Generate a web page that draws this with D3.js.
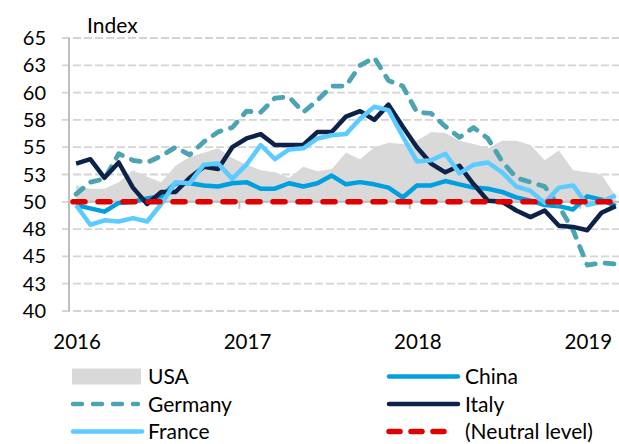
<!DOCTYPE html>
<html>
<head>
<meta charset="utf-8">
<script src="https://cdn.jsdelivr.net/npm/d3@7"></script>
<style>
  body { margin: 0; background: #fff; }
  svg { display: block; font-family: Lato, "Open Sans", sans-serif; }
</style>
</head>
<body>
<div id="chart"></div>
<script>
// monthly PMI readings, Mar 2016 .. May 2019
var months = d3.range(39).map(function(i) { return i; });
var yearLabels = ["2016", "2017", "2018", "2019"];
var yTicks = [40, 42.5, 45, 47.5, 50, 52.5, 55, 57.5, 60, 62.5, 65];

var usa = [51.5, 51.2, 51.2, 51.8, 52.9, 52.3, 51.8, 53.3, 54.1, 54.5, 54.9, 54.0, 53.4,
  52.9, 52.7, 52.2, 53.2, 52.8, 53.0, 54.5, 53.9, 55.0, 55.4, 55.3, 55.6, 56.4,
  56.3, 55.6, 55.3, 54.9, 55.6, 55.6, 55.2, 53.8, 54.7, 52.9, 52.7, 52.5, 50.5];
var china = [49.7, 49.4, 49.1, 49.9, 50.0, 50.3, 50.5, 51.7, 51.7, 51.5, 51.4, 51.7, 51.8,
  51.2, 51.2, 51.7, 51.4, 51.7, 52.4, 51.6, 51.8, 51.6, 51.3, 50.4, 51.5, 51.5,
  51.9, 51.6, 51.3, 51.2, 50.9, 50.4, 50.1, 49.7, 49.6, 49.3, 50.5, 50.2, 49.6];
var germany = [50.7, 51.8, 52.1, 54.4, 53.8, 53.6, 54.2, 55.0, 54.3, 55.5, 56.4, 56.8, 58.3,
  58.2, 59.5, 59.6, 58.2, 59.3, 60.6, 60.6, 62.5, 63.2, 61.1, 60.6, 58.2, 58.1,
  56.9, 55.9, 56.8, 55.8, 53.7, 52.2, 51.8, 51.4, 49.6, 47.4, 44.2, 44.4, 44.3];
var italy = [53.5, 53.9, 52.2, 53.6, 51.3, 49.8, 50.9, 50.9, 52.2, 53.2, 53.0, 55.0, 55.8,
  56.2, 55.2, 55.2, 55.2, 56.4, 56.4, 57.8, 58.3, 57.5, 58.9, 56.9, 55.0, 53.5,
  52.7, 53.3, 51.6, 50.1, 50.0, 49.2, 48.6, 49.2, 47.8, 47.7, 47.4, 49.0, 49.6];
var france = [49.7, 47.9, 48.3, 48.2, 48.5, 48.2, 49.8, 51.8, 51.7, 53.4, 53.5, 52.1, 53.4,
  55.2, 53.9, 54.8, 54.9, 55.8, 56.1, 56.2, 57.6, 58.7, 58.4, 56.0, 53.7, 53.8,
  54.4, 52.6, 53.4, 53.6, 52.7, 51.4, 51.0, 49.9, 51.3, 51.5, 49.7, 50.0, 50.6];
var neutral = 50;

var width = 619, height = 444;

var svg = d3.select("#chart")
  .append("svg")
    .attr("width", width)
    .attr("height", height);

var x = d3.scalePoint()
  .domain(months)
  .range([69, 622.8])
  .padding(0.5);
var step = x.step();

var y = d3.scaleLinear()
  .domain([40, 65])
  .range([311, 38]);

// gridlines (dashed, also forming the left tick marks)
svg.append("g")
  .selectAll("line")
  .data(yTicks)
  .enter()
    .append("line")
    .attr("x1", 62)
    .attr("x2", 623)
    .attr("y1", d => y(d))
    .attr("y2", d => y(d))
    .attr("stroke", "#d4d4d4")
    .attr("stroke-width", 1.8)
    .attr("stroke-dasharray", "8,3");

// y axis labels
svg.append("g")
  .selectAll("text")
  .data(yTicks)
  .enter()
    .append("text")
    .attr("x", 46)
    .attr("y", d => y(d))
    .attr("dy", "0.35em")
    .attr("text-anchor", "end")
    .attr("font-size", 20)
    .attr("fill", "#000")
    .text(d => Math.round(d));

svg.append("text")
  .attr("x", 87)
  .attr("y", 33)
  .attr("font-size", 21)
  .text("Index");

// USA area, filled down to the neutral level
var area = d3.area()
  .x((d, i) => x(i))
  .y0(y(neutral))
  .y1(d => y(d));

svg.append("path")
  .datum(usa)
  .attr("d", area)
  .attr("fill", "#d9d9d9");

// axes lines
svg.append("line")
  .attr("x1", 69).attr("x2", 69)
  .attr("y1", y(65)).attr("y2", y(40))
  .attr("stroke", "#bfbfbf")
  .attr("stroke-width", 2);

svg.append("line")
  .attr("x1", 69).attr("x2", 623)
  .attr("y1", y(neutral)).attr("y2", y(neutral))
  .attr("stroke", "#bfbfbf")
  .attr("stroke-width", 2);

svg.append("g")
  .selectAll("line")
  .data([12, 24, 36])
  .enter()
    .append("line")
    .attr("x1", d => x(d) - step / 2)
    .attr("x2", d => x(d) - step / 2)
    .attr("y1", y(neutral))
    .attr("y2", y(neutral) + 7)
    .attr("stroke", "#bfbfbf")
    .attr("stroke-width", 2);

svg.append("g")
  .selectAll("text")
  .data(yearLabels)
  .enter()
    .append("text")
    .attr("x", (d, i) => x(i * 12) + 1)
    .attr("y", 349)
    .attr("text-anchor", "middle")
    .attr("font-size", 20.5)
    .text(d => d);

var line = d3.line()
  .x((d, i) => x(i))
  .y(d => y(d));

var series = [
  {name: "China", values: china, color: "#009fe0", width: 4.5, dash: null},
  {name: "Germany", values: germany, color: "#4ba3b4", width: 4.8, dash: "9,10"},
  {name: "Italy", values: italy, color: "#0c2249", width: 4.5, dash: null},
  {name: "France", values: france, color: "#5ccbff", width: 4.5, dash: null}
];

svg.append("g")
  .selectAll("path")
  .data(series)
  .enter()
    .append("path")
    .attr("d", d => line(d.values))
    .attr("fill", "none")
    .attr("stroke", d => d.color)
    .attr("stroke-width", d => d.width)
    .attr("stroke-linejoin", "round")
    .attr("stroke-linecap", d => d.dash ? "round" : "butt")
    .attr("stroke-dasharray", d => d.dash);

// neutral level
svg.append("line")
  .attr("x1", x(0) - step / 2 + 4)
  .attr("x2", 623)
  .attr("y1", y(neutral))
  .attr("y2", y(neutral))
  .attr("stroke", "#e00000")
  .attr("stroke-width", 5.5)
  .attr("stroke-linecap", "round")
  .attr("stroke-dasharray", "12,13");

// legend
var legendItems = [
  {name: "USA", type: "area", color: "#d9d9d9", col: 0, row: 0},
  {name: "China", type: "line", color: "#009fe0", col: 1, row: 0},
  {name: "Germany", type: "dash", color: "#4ba3b4", col: 0, row: 1},
  {name: "Italy", type: "line", color: "#0c2249", col: 1, row: 1},
  {name: "France", type: "line", color: "#5ccbff", col: 0, row: 2},
  {name: "(Neutral level)", type: "red", color: "#e00000", col: 1, row: 2}
];

var legend = svg.append("g");
legendItems.forEach(function(d) {
  var lx = d.col === 0 ? 72 : 388;
  var ly = 376.5 + d.row * 27.5;
  var g = legend.append("g").attr("transform", "translate(" + lx + "," + ly + ")");
  if (d.type === "area") {
    g.append("rect")
      .attr("x", 0).attr("y", -8)
      .attr("width", 69).attr("height", 16)
      .attr("fill", d.color);
  } else {
    g.append("line")
      .attr("x1", 1).attr("x2", d.type === "line" ? 70 : 66)
      .attr("y1", 0).attr("y2", 0)
      .attr("stroke", d.color)
      .attr("stroke-width", d.type === "red" ? 5.5 : 4.5)
      .attr("stroke-linecap", "round")
      .attr("stroke-dasharray", d.type === "dash" ? "9,11" : d.type === "red" ? "11,11" : null);
  }
  g.append("text")
    .attr("x", d.col === 0 ? 76 : 77)
    .attr("y", 0)
    .attr("dy", "0.36em")
    .attr("font-size", 21)
    .text(d.name);
});
</script>
</body>
</html>
